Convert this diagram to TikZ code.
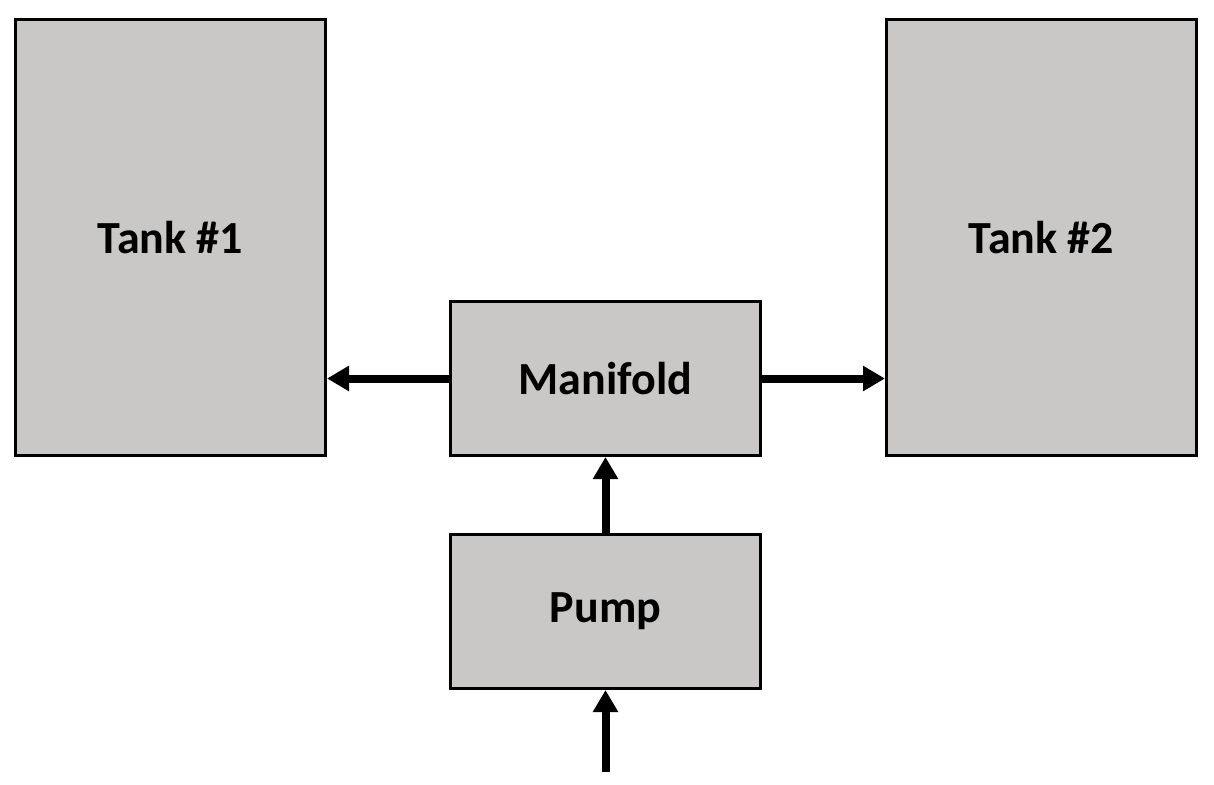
\documentclass[tikz,border=0pt]{standalone}
\usepackage{fontspec}
\setmainfont{Carlito}
\usetikzlibrary{arrows.meta}
\definecolor{boxgray}{RGB}{201,200,198}
\begin{document}
\begin{tikzpicture}[x=1pt,y=-1pt,
  blockbox/.style={draw=black, line width=3pt, fill=boxgray, rectangle, inner sep=0pt,
    minimum width=310pt, font=\fontsize{46}{50}\selectfont\bfseries},
  flow/.style={line width=8pt, -{Triangle[length=22pt,width=24pt]}}]
\useasboundingbox[fill=white] (0,0) rectangle (1214,784);
\node[blockbox, minimum height=436pt] (t1) at (170.5,237.5) {Tank \#1};
\node[blockbox, minimum height=436pt] (t2) at (1041.5,237.5) {Tank \#2};
\node[blockbox, minimum height=154pt] (man) at (605.5,378.5) {Manifold};
\node[blockbox, minimum height=154pt] (pump) at (605.5,611.5) {Pump};
\coordinate (src) at (605.5,772);
\draw[flow] (man.west) -- (t1.east |- man.west);
\draw[flow] (man.east) -- (t2.west |- man.east);
\draw[flow] (pump.north) -- (man.south);
\draw[flow] (src) -- (pump.south);
\end{tikzpicture}
\end{document}
